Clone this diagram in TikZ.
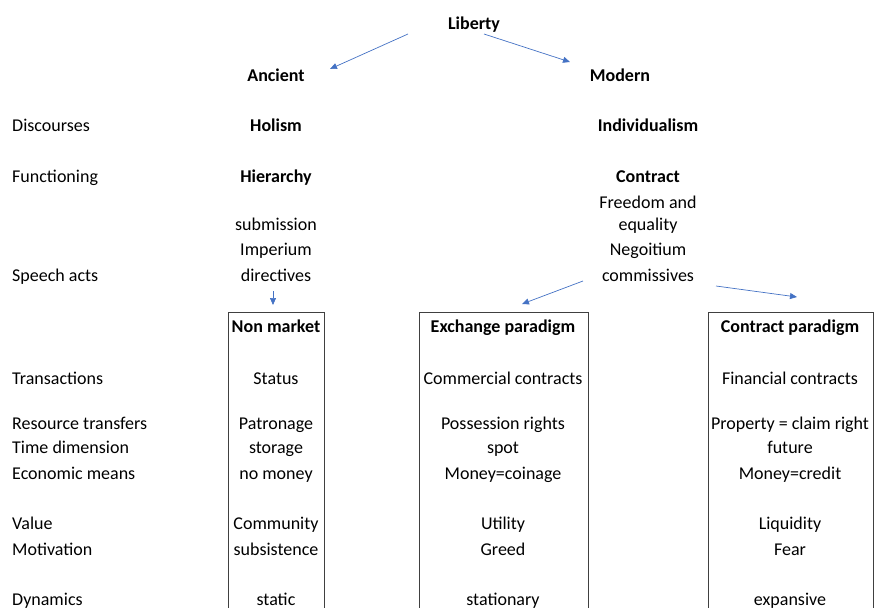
\documentclass[tikz,border=0pt]{standalone}
\usepackage{fontspec}
\setmainfont{Carlito}
\usetikzlibrary{arrows.meta}
\definecolor{arrowblue}{HTML}{4472C4}
\tikzset{
  txt/.style={inner sep=0pt, text height=11.5pt, text depth=0pt, font=\fontsize{18}{20}\selectfont},
  hd/.style={txt, font=\fontsize{18}{20}\selectfont\bfseries},
  lbl/.style={txt, anchor=west},
  arr/.style={draw=arrowblue, line width=0.7pt, -{Triangle[length=7pt,width=6pt]}},
  boxline/.style={draw=black!75, line width=1pt}
}
\begin{document}
\begin{tikzpicture}[x=1pt,y=-1pt]
\useasboundingbox (0,0) rectangle (874,607);
% top
\node[hd] (lib) at (474,24) {Liberty};
\node[hd] (anc) at (276,76) {Ancient};
\node[hd] (mod) at (620,76) {Modern};
\coordinate (libL) at (408,34);
\coordinate (libR) at (484,34);
\coordinate (ancT) at (330,69);
\coordinate (modT) at (570,62);
\draw[arr] (libL) -- (ancT);
\draw[arr] (libR) -- (modT);
% row labels
\node[lbl] (rDis) at (12,126) {Discourses};
\node[lbl] (rFun) at (12,177) {Functioning};
\node[lbl] (rSpe) at (12,276) {Speech acts};
\node[lbl] (rTra) at (12,379) {Transactions};
\node[lbl] (rRes) at (12,424) {Resource transfers};
\node[lbl] (rTim) at (12,448) {Time dimension};
\node[lbl] (rEco) at (12,474) {Economic means};
\node[lbl] (rVal) at (12,524) {Value};
\node[lbl] (rMot) at (12,550) {Motivation};
\node[lbl] (rDyn) at (12,600) {Dynamics};
% ancient column
\node[hd] (hol) at (276,126) {Holism};
\node[hd] (hie) at (276,177) {Hierarchy};
\node[txt] (sub) at (276,225) {submission};
\node[txt] (imp) at (276,250) {Imperium};
\node[txt] (dir) at (276,276) {directives};
% modern column
\node[hd] (ind) at (648,126) {Individualism};
\node[hd] (con) at (648,177) {Contract};
\node[txt] (fre) at (648,203) {Freedom and};
\node[txt] (equ) at (648,225) {equality};
\node[txt] (neg) at (648,250) {Negoitium};
\node[txt] (com) at (648,276) {commissives};
% arrows to boxes
\coordinate (dirB) at (273,291);
\coordinate (nmT) at (273,305);
\coordinate (comL) at (583,281);
\coordinate (exT) at (522,304);
\coordinate (comR) at (716,286);
\coordinate (ctT) at (797,297);
\draw[arr] (dirB) -- (nmT);
\draw[arr] (comL) -- (exT);
\draw[arr] (comR) -- (ctT);
% boxes (open at the bottom edge of the picture)
\coordinate (b1a) at (228,612); \coordinate (b1b) at (228,312);
\coordinate (b1c) at (324,312); \coordinate (b1d) at (324,612);
\coordinate (b2a) at (419,612); \coordinate (b2b) at (419,312);
\coordinate (b2c) at (588,312); \coordinate (b2d) at (588,612);
\coordinate (b3a) at (708,612); \coordinate (b3b) at (708,312);
\coordinate (b3c) at (873,312); \coordinate (b3d) at (873,612);
\draw[boxline] (b1a) -- (b1b) -- (b1c) -- (b1d);
\draw[boxline] (b2a) -- (b2b) -- (b2c) -- (b2d);
\draw[boxline] (b3a) -- (b3b) -- (b3c) -- (b3d);
% box contents
\node[hd] (nmH) at (276,327) {Non market};
\node[txt] (nm1) at (276,379) {Status};
\node[txt] (nm2) at (276,424) {Patronage};
\node[txt] (nm3) at (276,448) {storage};
\node[txt] (nm4) at (276,474) {no money};
\node[txt] (nm5) at (276,524) {Community};
\node[txt] (nm6) at (276,550) {subsistence};
\node[txt] (nm7) at (276,600) {static};
\node[hd] (exH) at (503,327) {Exchange paradigm};
\node[txt] (ex1) at (503,379) {Commercial contracts};
\node[txt] (ex2) at (503,424) {Possession rights};
\node[txt] (ex3) at (503,448) {spot};
\node[txt] (ex4) at (503,474) {Money=coinage};
\node[txt] (ex5) at (503,524) {Utility};
\node[txt] (ex6) at (503,550) {Greed};
\node[txt] (ex7) at (503,600) {stationary};
\node[hd] (ctH) at (790,327) {Contract paradigm};
\node[txt] (ct1) at (790,379) {Financial contracts};
\node[txt] (ct2) at (790,424) {Property = claim right};
\node[txt] (ct3) at (790,448) {future};
\node[txt] (ct4) at (790,474) {Money=credit};
\node[txt] (ct5) at (790,524) {Liquidity};
\node[txt] (ct6) at (790,550) {Fear};
\node[txt] (ct7) at (790,600) {expansive};
\end{tikzpicture}
\end{document}
